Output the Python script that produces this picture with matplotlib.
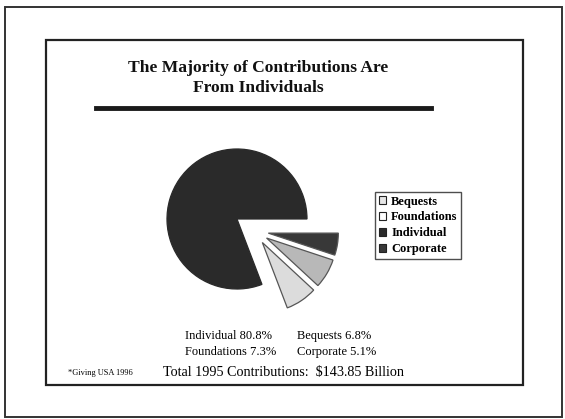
import matplotlib.pyplot as plt
from matplotlib.patches import Rectangle
from matplotlib.lines import Line2D
from matplotlib.transforms import Affine2D

# pie data, drawn counter-clockwise starting from the bottom of the exploded group
labels = ["Foundations", "Bequests", "Corporate", "Individual"]
shares = [7.3, 6.8, 5.1, 80.8]
colors = ["#dcdcdc", "#b8b8b8", "#383838", "#2a2a2a"]

legend_order = ["Bequests", "Foundations", "Individual", "Corporate"]
legend_colors = ["#e6e6e6", "#ffffff", "#2a2a2a", "#383838"]

title = "The Majority of Contributions Are\nFrom Individuals"
summary_left = ["Individual 80.8%", "Foundations 7.3%"]
summary_right = ["Bequests 6.8%", "Corporate 5.1%"]
total_text = "Total 1995 Contributions:  $143.85 Billion"
source_text = "*Giving USA 1996"

W, H = 565, 419
serif = ["Liberation Serif", "DejaVu Serif"]


def fx(px):
    return px / W


def fy(py):
    return 1 - py / H


fig = plt.figure(figsize=(W / 100, H / 100), dpi=100)
fig.patch.set_facecolor("white")

# outer and inner frames
fig.add_artist(Rectangle((fx(5), fy(417)), fx(562) - fx(5), fy(7) - fy(417),
                         transform=fig.transFigure, fill=False, lw=1.4, ec="#333333"))
fig.add_artist(Rectangle((fx(46), fy(385)), fx(523) - fx(46), fy(40) - fy(385),
                         transform=fig.transFigure, fill=False, lw=1.6, ec="#222222"))

fig.text(fx(258), fy(78), title, ha="center", va="center", fontsize=12.6,
         fontweight="bold", family=serif, linespacing=1.3, color="#111111")
fig.add_artist(Line2D([fx(96), fx(431)], [fy(108), fy(108)],
                      transform=fig.transFigure, lw=3.5, color="#1a1a1a"))

# pie axes: 280 px square around the pie center, 70 px per unit radius
cx, cy = 237, 219
ax = fig.add_axes([fx(cx - 140), fy(cy + 140), 280 / W, 280 / H])
explode = [0.2, 0.2, 0.2, 0.0]
wedges, _ = ax.pie(shares, explode=explode, colors=colors, startangle=-69.1,
                   counterclock=True, radius=1,
                   wedgeprops=dict(edgecolor="#555555", linewidth=0.9))
wedges[3].set_edgecolor("#2a2a2a")
shift = Affine2D().translate(0.25, -0.17)
for w in wedges[:3]:
    w.set_transform(shift + ax.transData)
ax.set_xlim(-2, 2)
ax.set_ylim(-2, 2)
ax.set_aspect("equal")
ax.axis("off")

handles = [Rectangle((0, 0), 1, 1, fc=c, ec="#222222", lw=0.8) for c in legend_colors]
leg = fig.legend(handles, legend_order, loc="upper left",
                 bbox_to_anchor=(fx(375), fy(192)), frameon=True, fancybox=False,
                 prop=dict(family=serif, weight="bold", size=9),
                 handlelength=0.6, handleheight=0.6, handletextpad=0.4,
                 labelspacing=0.3, borderpad=0.3, borderaxespad=0)
leg.get_frame().set_edgecolor("#222222")
leg.get_frame().set_linewidth(1.0)

for i, (a, b) in enumerate(zip(summary_left, summary_right)):
    y = fy(336 + 16 * i)
    fig.text(fx(185), y, a, ha="left", va="center", fontsize=9, family=serif)
    fig.text(fx(297), y, b, ha="left", va="center", fontsize=9, family=serif)

fig.text(fx(163), fy(372), total_text, ha="left", va="center", fontsize=10.2, family=serif)
fig.text(fx(68), fy(373), source_text, ha="left", va="center", fontsize=6, family=serif)

fig.savefig("out.png", dpi=100)
